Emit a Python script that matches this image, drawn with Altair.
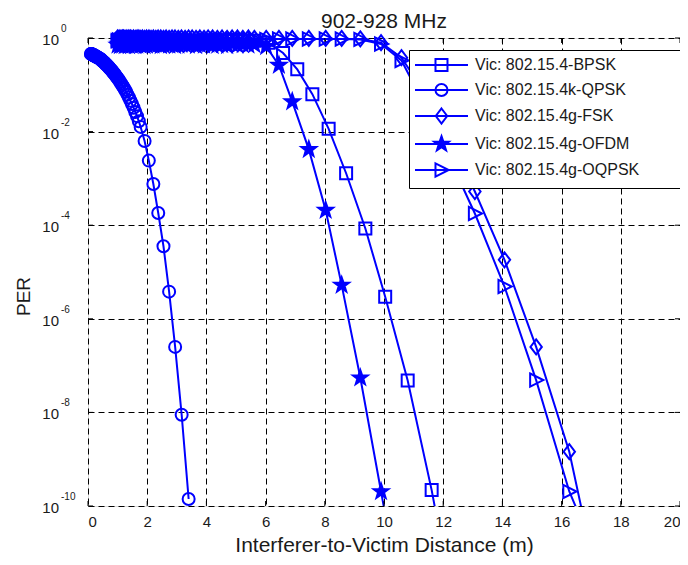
import math
import altair as alt
import pandas as pd

# ---------------- data ----------------
SERIES = ["Vic: 802.15.4-BPSK", "Vic: 802.15.4k-QPSK", "Vic: 802.15.4g-FSK",
          "Vic: 802.15.4g-OFDM", "Vic: 802.15.4g-OQPSK"]

# distances of the dense "PER ~ 1" band
BAND_X = [1.00, 1.04, 1.08, 1.12, 1.16, 1.20, 1.24, 1.29, 1.34, 1.38, 1.43, 1.48, 1.54,
          1.60, 1.66, 1.72, 1.78, 1.84, 1.91, 1.98, 2.06, 2.13, 2.21, 2.29, 2.37, 2.46,
          2.55, 2.64, 2.74, 2.84, 2.94, 3.05, 3.16, 3.28, 3.40, 3.52, 3.65, 3.78, 3.92,
          4.06, 4.21, 4.37, 4.53, 4.70, 4.87, 5.05, 5.23, 5.42, 5.62]

# log10(PER) values
BPSK_X = BAND_X + [6.10, 6.59, 7.07, 7.58, 8.13, 8.72, 9.37, 10.04, 10.80, 11.61, 12.45]
BPSK_L = [-0.06, -0.07, -0.05, -0.06, -0.08, -0.06, -0.05, -0.07, -0.06, -0.05, -0.07,
          -0.06, -0.08, -0.05, -0.06, -0.07, -0.06, -0.05, -0.07, -0.06, -0.08, -0.06,
          -0.05, -0.07, -0.06, -0.05, -0.07, -0.06, -0.08, -0.05, -0.06, -0.07, -0.06,
          -0.05, -0.07, -0.06, -0.08, -0.06, -0.05, -0.07, -0.06, -0.05, -0.07, -0.06,
          -0.05, -0.06, -0.07, -0.06, -0.06,
          -0.10, -0.32, -0.67, -1.20, -1.94, -2.89, -4.07, -5.53, -7.32, -9.66, -12.5]

QPSK_X = [0.100, 0.108, 0.116, 0.124, 0.134, 0.144, 0.154, 0.166, 0.178, 0.191, 0.206,
          0.221, 0.238, 0.255, 0.274, 0.295, 0.317, 0.340, 0.366, 0.393, 0.422, 0.438,
          0.454, 0.471, 0.488, 0.506, 0.524, 0.543, 0.563, 0.584, 0.605, 0.627, 0.650,
          0.674, 0.699, 0.725, 0.751, 0.779, 0.807, 0.837, 0.867, 0.899, 0.931, 0.966,
          1.001, 1.038, 1.076, 1.116, 1.156, 1.199, 1.242, 1.288, 1.335, 1.384, 1.434,
          1.487, 1.541, 1.598, 1.656, 1.717, 1.779, 1.912, 2.055, 2.208, 2.373, 2.550,
          2.740, 2.944, 3.164, 3.400]
QPSK_L = [-0.34, -0.34, -0.34, -0.35, -0.35, -0.35, -0.36, -0.36, -0.36, -0.37, -0.37,
          -0.38, -0.38, -0.39, -0.40, -0.40, -0.41, -0.42, -0.43, -0.44, -0.45, -0.46,
          -0.47, -0.48, -0.49, -0.50, -0.51, -0.52, -0.53, -0.55, -0.56, -0.57, -0.59,
          -0.60, -0.62, -0.64, -0.66, -0.68, -0.70, -0.72, -0.75, -0.77, -0.80, -0.83,
          -0.86, -0.89, -0.93, -0.97, -1.01, -1.05, -1.10, -1.15, -1.21, -1.27, -1.34,
          -1.41, -1.49, -1.58, -1.67, -1.78, -1.90, -2.20, -2.62, -3.12, -3.74, -4.45,
          -5.42, -6.60, -8.05, -9.85]

FSK_X = BAND_X + [6.02, 6.45, 6.90, 7.46, 8.03, 8.57, 9.20, 9.90, 10.59, 11.35, 12.16,
                  13.07, 14.07, 15.14, 16.26, 17.47]
FSK_L = [0.00, -0.01, 0.00, -0.01, 0.00, 0.00, -0.01, 0.00, -0.01, 0.00, 0.00, -0.01,
         0.00, -0.01, 0.00, 0.00, -0.01, 0.00, -0.01, 0.00, 0.00, -0.01, 0.00, -0.01,
         0.00, 0.00, -0.01, 0.00, -0.01, 0.00, 0.00, -0.01, 0.00, -0.01, 0.00, 0.00,
         -0.01, 0.00, -0.01, 0.00, 0.00, -0.01, 0.00, -0.01, 0.00, 0.00, -0.01, 0.00,
         -0.01,
         -0.01, -0.01, -0.01, -0.01, -0.01, -0.01, -0.02, -0.10, -0.42, -1.15, -2.10,
         -3.28, -4.74, -6.60, -8.84, -12.4]

OFDM_X = BAND_X + [6.02, 6.45, 6.90, 7.46, 8.03, 8.57, 9.20, 9.90, 10.59]
OFDM_L = [-0.15, -0.13, -0.16, -0.14, -0.15, -0.13, -0.16, -0.15, -0.14, -0.16, -0.13,
          -0.15, -0.14, -0.16, -0.15, -0.13, -0.15, -0.14, -0.16, -0.15, -0.13, -0.14,
          -0.15, -0.13, -0.14, -0.16, -0.15, -0.13, -0.15, -0.14, -0.16, -0.15, -0.13,
          -0.14, -0.15, -0.13, -0.16, -0.14, -0.15, -0.13, -0.16, -0.15, -0.14, -0.16,
          -0.13, -0.15, -0.14, -0.15, -0.14,
          -0.18, -0.58, -1.36, -2.38, -3.68, -5.28, -7.26, -9.69, -12.1]

OQPSK_X = BAND_X + [6.02, 6.45, 6.90, 7.46, 8.03, 8.57, 9.20, 9.90, 10.59, 11.35, 12.16,
                    13.07, 14.07, 15.14, 16.26, 17.47]
OQPSK_L = [-0.06, -0.04, -0.07, -0.05, -0.03, -0.06, -0.05, -0.04, -0.07, -0.05, -0.06,
           -0.04, -0.05, -0.07, -0.04, -0.05, -0.06, -0.04, -0.05, -0.03, -0.05, -0.04,
           -0.03, -0.04, -0.03, -0.05, -0.06, -0.04, -0.05, -0.03, -0.04, -0.06, -0.05,
           -0.04, -0.03, -0.05, -0.04, -0.06, -0.03, -0.04, -0.05, -0.03, -0.04, -0.05,
           -0.03, -0.04, -0.03, -0.04, -0.03,
           -0.03, -0.02, -0.02, -0.02, -0.02, -0.02, -0.03, -0.13, -0.48, -1.40, -2.50,
           -3.75, -5.31, -7.31, -9.69, -11.5]

X_TICKS = [0, 2, 4, 6, 8, 10, 12, 14, 16, 18, 20]
Y_EXPS = [0, -2, -4, -6, -8, -10]

# ---------------- styling ----------------
BLUE = "#0000FF"
FONT = "Liberation Sans"
TXT = "#1a1a1a"
W, H = 592, 468


def poly(pts, dx=0.0):
    return "M" + "L".join(f"{x + dx:.3f},{y:.3f}" for x, y in pts) + "Z"


def circle(dx=0.0, r=1.0):
    return (f"M{dx - r:.3f},0A{r},{r} 0 1,0 {dx + r:.3f},0"
            f"A{r},{r} 0 1,0 {dx - r:.3f},0Z")


star_pts = []
for k in range(10):
    ang = -math.pi / 2 + k * math.pi / 5
    rad = 1.3 if k % 2 == 0 else 0.52
    star_pts.append((rad * math.cos(ang), rad * math.sin(ang)))

SQUARE = [(-1, -1), (1, -1), (1, 1), (-1, 1)]
DIAMOND = [(0, -1.25), (0.95, 0), (0, 1.25), (-0.95, 0)]
TRI = [(-1, -1.1), (1.2, 0), (-1, 1.1)]

MARKERS = [poly(SQUARE), circle(), poly(DIAMOND), poly(star_pts), poly(TRI)]

# legend symbol: invisible extent points + line + marker
L0, L1 = -1.5, 7.33
MID = (L0 + L1) / 2
LINE = f"M-2.17,0M41.0,0M{L0},0L{L1},0"
LEG_MARKERS = [LINE + poly(SQUARE, MID), LINE + circle(MID), LINE + poly(DIAMOND, MID),
               LINE + poly(star_pts, MID), LINE + poly(TRI, MID)]
FILLS = ["transparent", "transparent", "transparent", BLUE, "transparent"]

rows = []
for name, xs, ls in zip(SERIES, [BPSK_X, QPSK_X, FSK_X, OFDM_X, OQPSK_X],
                        [BPSK_L, QPSK_L, FSK_L, OFDM_L, OQPSK_L]):
    for i, (x, l) in enumerate(zip(xs, ls)):
        rows.append({"series": name, "x": x, "per": 10 ** l, "i": i})
df = pd.DataFrame(rows)

yscale = alt.Scale(type="log", domain=[1e-10, 1])
xscale = alt.Scale(domain=[0, 20], nice=False)

base = alt.Chart(df)

lines = base.mark_line(color=BLUE, strokeWidth=2, clip=True).encode(
    x=alt.X("x:Q", scale=xscale,
            axis=alt.Axis(values=X_TICKS, format="d", ticks=False, domain=False,
                          grid=True, gridDash=[6, 4], gridColor="black", gridWidth=1,
                          labelFont=FONT, labelFontSize=15, labelColor=TXT,
                          labelPadding=8,
                          title="Interferer-to-Victim Distance (m)", titleFont=FONT,
                          titleFontSize=21, titleFontWeight="normal", titleColor=TXT,
                          titleY=39, titleBaseline="middle")),
    y=alt.Y("per:Q", scale=yscale,
            axis=alt.Axis(values=[10.0 ** e for e in Y_EXPS], labels=False, ticks=False,
                          domain=False, grid=True, gridDash=[6, 4], gridColor="black",
                          gridWidth=1, title="PER", titleFont=FONT, titleFontSize=19,
                          titleFontWeight="normal", titleColor=TXT, titleX=-65,
                          titleY=258, titleAlign="center", titleBaseline="middle")),
    detail="series:N",
    order="i:Q",
)

points = base.mark_point(stroke=BLUE, strokeWidth=2, size=144, opacity=1).encode(
    x="x:Q",
    y="per:Q",
    shape=alt.Shape("series:N", scale=alt.Scale(domain=SERIES, range=MARKERS),
                    legend=None),
    fill=alt.Fill("series:N", scale=alt.Scale(domain=SERIES, range=FILLS), legend=None),
).transform_filter("datum.per >= 1e-10")

legend_layer = base.mark_point(strokeWidth=2, size=144, opacity=1).encode(
    x="x:Q",
    y="per:Q",
    shape=alt.Shape("series:N", scale=alt.Scale(domain=SERIES, range=LEG_MARKERS),
                    legend=alt.Legend(title=None, orient="none", legendX=321,
                                      legendY=12, padding=7, rowPadding=4,
                                      strokeColor="black", fillColor="white",
                                      symbolSize=144, symbolStrokeWidth=2,
                                      symbolStrokeColor=BLUE, labelOffset=43,
                                      labelFont=FONT, labelFontSize=16,
                                      labelColor=TXT, labelLimit=400)),
    stroke=alt.Stroke("series:N", scale=alt.Scale(domain=SERIES, range=[BLUE] * 5)),
    fill=alt.Fill("series:N", scale=alt.Scale(domain=SERIES, range=FILLS)),
).transform_filter("false")

xt = pd.DataFrame({"t": X_TICKS})
yt = pd.DataFrame({"v": [10.0 ** e for e in Y_EXPS], "sup": [str(e) for e in Y_EXPS]})

tick_b = alt.Chart(xt).mark_rule(color="black").encode(
    x="t:Q", y=alt.value(H), y2=alt.value(H - 5))
tick_t = alt.Chart(xt).mark_rule(color="black").encode(
    x="t:Q", y=alt.value(0), y2=alt.value(5))
tick_l = alt.Chart(yt).mark_rule(color="black").encode(
    y="v:Q", x=alt.value(0), x2=alt.value(5))
tick_r = alt.Chart(yt).mark_rule(color="black").encode(
    y="v:Q", x=alt.value(W - 5), x2=alt.value(W))

lab10 = alt.Chart(yt).mark_text(align="right", baseline="middle", font=FONT,
                                fontSize=15, color=TXT, dy=2).encode(
    y="v:Q", x=alt.value(-29), text=alt.value("10"))
labsup = alt.Chart(yt).mark_text(align="left", baseline="middle", font=FONT,
                                 fontSize=10, color=TXT, dy=-9).encode(
    y="v:Q", x=alt.value(-27), text="sup:N")

chart = alt.layer(lines, tick_b, tick_t, tick_l, tick_r, points, legend_layer,
                  lab10, labsup).resolve_scale(
    shape="independent", fill="independent", stroke="independent"
).properties(
    width=W, height=H,
    title=alt.Title("902-928 MHz", font=FONT, fontSize=21, fontWeight="normal",
                    color=TXT, frame="group", anchor="middle", offset=10, dy=18),
    padding={"left": 80, "top": 30, "right": 0, "bottom": 51},
    autosize=alt.AutoSizeParams(type="none"),
).configure_view(stroke="black", strokeWidth=1, fill="white").configure(
    background="white")

chart.save("out.html", embed_options={"renderer": "svg", "actions": False})
